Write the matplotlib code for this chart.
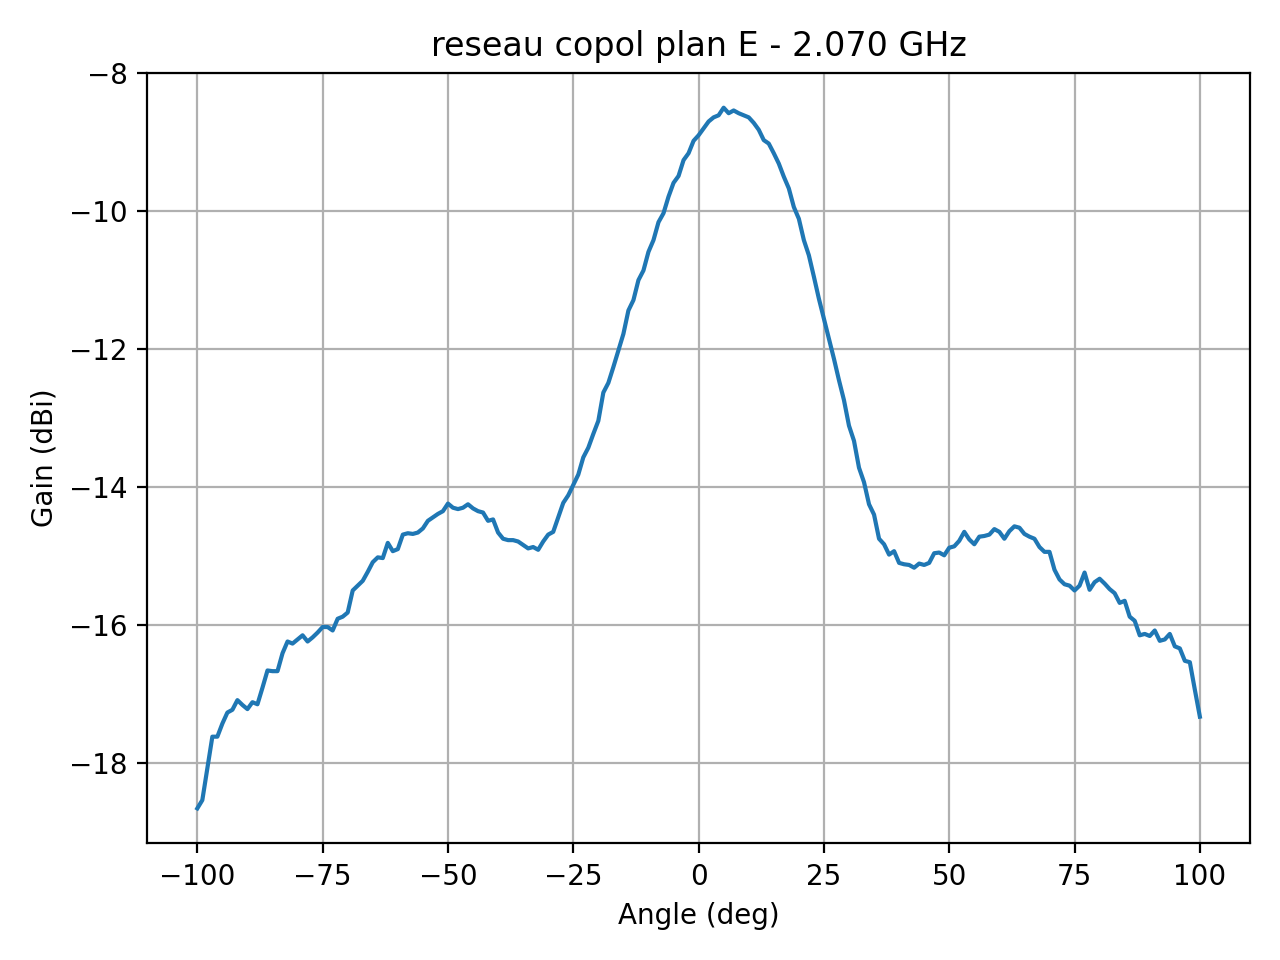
import matplotlib
matplotlib.use("Agg")
import matplotlib.pyplot as plt
import numpy as np

# measurement angles, 1 deg step
angle_deg = np.arange(-100, 101, 1)

# copol gain, E plane, 2.070 GHz
gain_left = [
    -18.66, -18.54, -18.08, -17.62, -17.62, -17.43, -17.27, -17.23, -17.09, -17.16,
    -17.22, -17.12, -17.15, -16.91, -16.66, -16.67, -16.67, -16.41, -16.24, -16.27,
    -16.21, -16.15, -16.24, -16.18, -16.11, -16.03, -16.03, -16.08, -15.91, -15.88,
    -15.82, -15.50, -15.43, -15.36, -15.23, -15.09, -15.02, -15.03, -14.81, -14.93,
    -14.90, -14.69, -14.67, -14.68, -14.66, -14.60, -14.49, -14.44, -14.39, -14.35,
    -14.24, -14.30, -14.32, -14.30, -14.25, -14.31, -14.35, -14.37, -14.49, -14.47,
    -14.66, -14.75, -14.77, -14.77, -14.79, -14.84, -14.89, -14.87, -14.91, -14.79,
    -14.69, -14.65, -14.44, -14.23, -14.12, -13.97, -13.82, -13.57, -13.43, -13.23,
    -13.04, -12.63, -12.49, -12.26, -12.02, -11.78, -11.44, -11.29, -11.00, -10.86,
    -10.59, -10.42, -10.16, -10.03, -9.79, -9.59, -9.49, -9.26, -9.16, -8.98,
]
gain_right = [
    -8.90, -8.80, -8.70, -8.64, -8.61, -8.50, -8.58, -8.54, -8.58, -8.61,
    -8.64, -8.72, -8.82, -8.97, -9.02, -9.16, -9.31, -9.50, -9.67, -9.94,
    -10.11, -10.42, -10.64, -10.95, -11.27, -11.56, -11.85, -12.14, -12.45, -12.74,
    -13.11, -13.33, -13.72, -13.93, -14.25, -14.40, -14.75, -14.83, -14.98, -14.93,
    -15.10, -15.12, -15.13, -15.17, -15.11, -15.13, -15.10, -14.96, -14.95, -14.99,
    -14.88, -14.86, -14.78, -14.65, -14.76, -14.83, -14.72, -14.71, -14.69, -14.61,
    -14.65, -14.75, -14.64, -14.57, -14.59, -14.68, -14.72, -14.75, -14.87, -14.94,
    -14.94, -15.20, -15.34, -15.41, -15.43, -15.50, -15.43, -15.24, -15.49, -15.38,
    -15.33, -15.40, -15.48, -15.54, -15.68, -15.65, -15.88, -15.94, -16.15, -16.13,
    -16.16, -16.08, -16.23, -16.21, -16.13, -16.31, -16.34, -16.52, -16.54, -16.94,
    -17.33,
]
gain_dbi = np.array(gain_left + gain_right)

fig, ax = plt.subplots(figsize=(6.4, 4.8), dpi=200)
ax.plot(angle_deg, gain_dbi)
ax.set_title("reseau copol plan E - 2.070 GHz")
ax.set_xlabel("Angle (deg)")
ax.set_ylabel("Gain (dBi)")
ax.grid(True)
plt.tight_layout()
plt.savefig("out.png", dpi=200)
